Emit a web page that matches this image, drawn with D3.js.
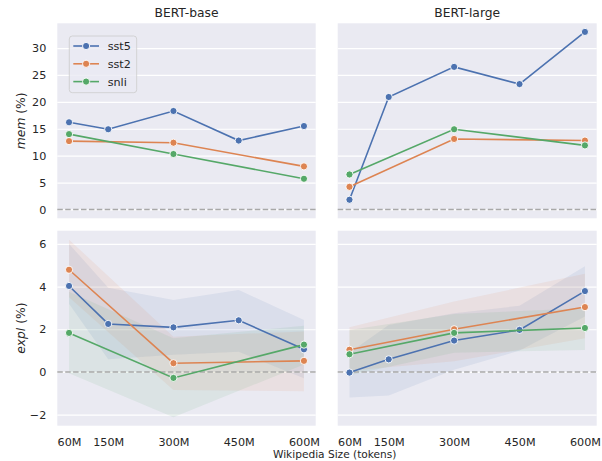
<!DOCTYPE html>
<html>
<head>
<meta charset="utf-8">
<script src="https://cdn.jsdelivr.net/npm/d3@7"></script>
<style>
  body { margin: 0; background: #fff; }
  svg { font-family: "DejaVu Sans", sans-serif; }
</style>
</head>
<body>
<div id="chart"></div>
<script>
// x values (tokens, millions)
const sizes = [60, 150, 300, 450, 600];
const sizes3 = [60, 300, 600];
const tickLabels = ["60M", "150M", "300M", "450M", "600M"];
const tasks = ["sst5", "sst2", "snli"];
const models = ["BERT-base", "BERT-large"];

// mem (%)
const memBaseSst5 = [16.2, 14.9, 18.3, 12.8, 15.5];
const memBaseSst2 = [12.7, 12.4, 8.0];
const memBaseSnli = [14.0, 10.3, 5.7];
const memLargeSst5 = [1.8, 20.9, 26.5, 23.3, 33.0];
const memLargeSst2 = [4.2, 13.1, 12.8];
const memLargeSnli = [6.5, 14.9, 11.9];

// expl (%) with band lo / hi
const explBaseSst5 = [4.03, 2.25, 2.09, 2.42, 1.06];
const explBaseSst5Lo = [3.2, 0.6, 0.8, 0.95, -0.3];
const explBaseSst5Hi = [6.0, 3.95, 3.37, 3.84, 2.43];
const explBaseSst2 = [4.79, 0.41, 0.52];
const explBaseSst2Lo = [3.5, -0.85, -0.9];
const explBaseSst2Hi = [6.2, 1.65, 1.9];
const explBaseSnli = [1.83, -0.28, 1.28];
const explBaseSnliLo = [-0.06, -2.12, 0.35];
const explBaseSnliHi = [3.76, 1.58, 2.17];

const explLargeSst5 = [-0.03, 0.59, 1.47, 1.97, 3.79];
const explLargeSst5Lo = [-1.2, -1.1, 0.1, 1.0, 2.6];
const explLargeSst5Hi = [0.9, 2.2, 2.75, 3.1, 4.95];
const explLargeSst2 = [1.04, 2.0, 3.04];
const explLargeSst2Lo = [0.05, 0.5, 1.58];
const explLargeSst2Hi = [2.1, 3.3, 4.6];
const explLargeSnli = [0.83, 1.83, 2.06];
const explLargeSnliLo = [-0.15, 0.9, 1.03];
const explLargeSnliHi = [1.97, 2.72, 2.98];

const memTicks = [0, 5, 10, 15, 20, 25, 30];
const explTicks = [-2, 0, 2, 4, 6];

const colors = {sst5: "#4c72b0", sst2: "#dd8452", snli: "#55a868"};

function series(task, xs, ys, lo, hi) {
    return {task, points: xs.map((x, i) => ({x, y: ys[i], lo: lo ? lo[i] : null, hi: hi ? hi[i] : null}))};
}

const memData = [
    [series("sst5", sizes, memBaseSst5), series("sst2", sizes3, memBaseSst2), series("snli", sizes3, memBaseSnli)],
    [series("sst5", sizes, memLargeSst5), series("sst2", sizes3, memLargeSst2), series("snli", sizes3, memLargeSnli)],
];
const explData = [
    [series("sst5", sizes, explBaseSst5, explBaseSst5Lo, explBaseSst5Hi),
     series("sst2", sizes3, explBaseSst2, explBaseSst2Lo, explBaseSst2Hi),
     series("snli", sizes3, explBaseSnli, explBaseSnliLo, explBaseSnliHi)],
    [series("sst5", sizes, explLargeSst5, explLargeSst5Lo, explLargeSst5Hi),
     series("sst2", sizes3, explLargeSst2, explLargeSst2Lo, explLargeSst2Hi),
     series("snli", sizes3, explLargeSnli, explLargeSnliLo, explLargeSnliHi)],
];

const width = 602;
const height = 461;
const textColor = "#262626";

// panel boxes
const cols = [{x0: 57.3, x1: 315.7}, {x0: 337.7, x1: 596.7}];
const rows = [
    {y0: 23.3, y1: 218.3, domain: [-1.65, 34.6], ticks: memTicks, data: memData, label: "mem"},
    {y0: 230.7, y1: 425.7, domain: [-2.52, 6.62], ticks: explTicks, data: explData, label: "expl"},
];

const svg = d3.select("#chart")
    .append("svg")
    .attr("width", width)
    .attr("height", height);

rows.forEach((row, ri) => {
    cols.forEach((col, ci) => {
        const x = d3.scaleLinear().domain([33, 627]).range([col.x0, col.x1]);
        const y = d3.scaleLinear().domain(row.domain).range([row.y1, row.y0]);
        const g = svg.append("g");

        g.append("rect")
            .attr("x", col.x0).attr("y", row.y0)
            .attr("width", col.x1 - col.x0).attr("height", row.y1 - row.y0)
            .attr("fill", "#eaeaf2");

        // grid
        g.append("g")
            .call(d3.axisLeft(y).tickValues(row.ticks).tickSize(-(col.x1 - col.x0)).tickFormat(""))
            .attr("transform", `translate(${col.x0},0)`)
            .call(a => a.select(".domain").remove())
            .call(a => a.selectAll("line").attr("stroke", "#fff").attr("stroke-width", 1.2));

        if (ci === 0) {
            g.append("g")
                .attr("transform", `translate(${col.x0},0)`)
                .call(d3.axisLeft(y).tickValues(row.ticks).tickSize(0).tickPadding(11)
                    .tickFormat(d => d < 0 ? "\u2212" + Math.abs(d) : d))
                .call(a => a.select(".domain").remove())
                .call(a => a.selectAll("text").attr("fill", textColor).style("font-size", "11.2px")
                    .style("font-family", "DejaVu Sans, sans-serif"));

            const cy = (row.y0 + row.y1) / 2;
            const yl = g.append("text")
                .attr("transform", `translate(20.5,${cy}) rotate(-90)`)
                .attr("text-anchor", "middle")
                .attr("dy", "0.35em")
                .attr("fill", textColor)
                .style("font-size", "12.3px");
            yl.append("tspan").attr("font-style", "italic").text(row.label);
            yl.append("tspan").text(" (%)");
        }

        if (ri === 0) {
            g.append("text")
                .attr("x", (col.x0 + col.x1) / 2)
                .attr("y", 16.7)
                .attr("text-anchor", "middle")
                .attr("fill", textColor)
                .style("font-size", "12.3px")
                .text(models[ci]);
        } else {
            g.append("g")
                .attr("transform", `translate(0,${row.y1})`)
                .call(d3.axisBottom(x).tickValues(sizes).tickSize(0).tickPadding(12)
                    .tickFormat((d, i) => tickLabels[i]))
                .call(a => a.select(".domain").remove())
                .call(a => a.selectAll("text").attr("fill", textColor).style("font-size", "11.2px")
                    .style("font-family", "DejaVu Sans, sans-serif"));
        }

        const panelData = row.data[ci];

        // error bands
        const area = d3.area()
            .x(d => x(d.x))
            .y0(d => y(d.lo))
            .y1(d => y(d.hi));
        panelData.filter(s => s.points[0].lo !== null).forEach(s => {
            g.append("path")
                .attr("d", area(s.points))
                .attr("fill", colors[s.task])
                .attr("fill-opacity", 0.1)
                .attr("stroke", "none");
        });

        // zero line
        g.append("line")
            .attr("x1", col.x0).attr("x2", col.x1)
            .attr("y1", y(0)).attr("y2", y(0))
            .attr("stroke", "#a8a8a8")
            .attr("stroke-width", 1.5)
            .attr("stroke-dasharray", "5.5,2.4");

        const line = d3.line().x(d => x(d.x)).y(d => y(d.y));
        panelData.forEach(s => {
            g.append("path")
                .attr("d", line(s.points))
                .attr("fill", "none")
                .attr("stroke", colors[s.task])
                .attr("stroke-width", 1.6);
            g.selectAll(null)
                .data(s.points)
                .join("circle")
                .attr("cx", d => x(d.x))
                .attr("cy", d => y(d.y))
                .attr("r", 3.6)
                .attr("fill", colors[s.task])
                .attr("stroke", "#fff")
                .attr("stroke-width", 0.9);
        });
    });
});

// legend
const legend = svg.append("g").attr("transform", "translate(69.3,36)");
legend.append("rect")
    .attr("width", 67.4).attr("height", 56.7)
    .attr("rx", 3)
    .attr("fill", "#eaeaf2").attr("fill-opacity", 0.8)
    .attr("stroke", "#cccccc").attr("stroke-width", 0.8);
tasks.forEach((t, i) => {
    const ly = 10 + i * 17.8;
    legend.append("line")
        .attr("x1", 4).attr("x2", 29.7)
        .attr("y1", ly).attr("y2", ly)
        .attr("stroke", colors[t]).attr("stroke-width", 1.6);
    legend.append("circle")
        .attr("cx", 16.8).attr("cy", ly).attr("r", 3.6)
        .attr("fill", colors[t]).attr("stroke", "#fff").attr("stroke-width", 0.9);
    legend.append("text")
        .attr("x", 38.4).attr("y", ly)
        .attr("dy", "0.35em")
        .attr("fill", textColor)
        .style("font-size", "11.2px")
        .text(t);
});

// x label
svg.append("text")
    .attr("x", 334.7)
    .attr("y", 458)
    .attr("text-anchor", "middle")
    .attr("fill", textColor)
    .style("font-size", "10.6px")
    .text("Wikipedia Size (tokens)");
</script>
</body>
</html>
